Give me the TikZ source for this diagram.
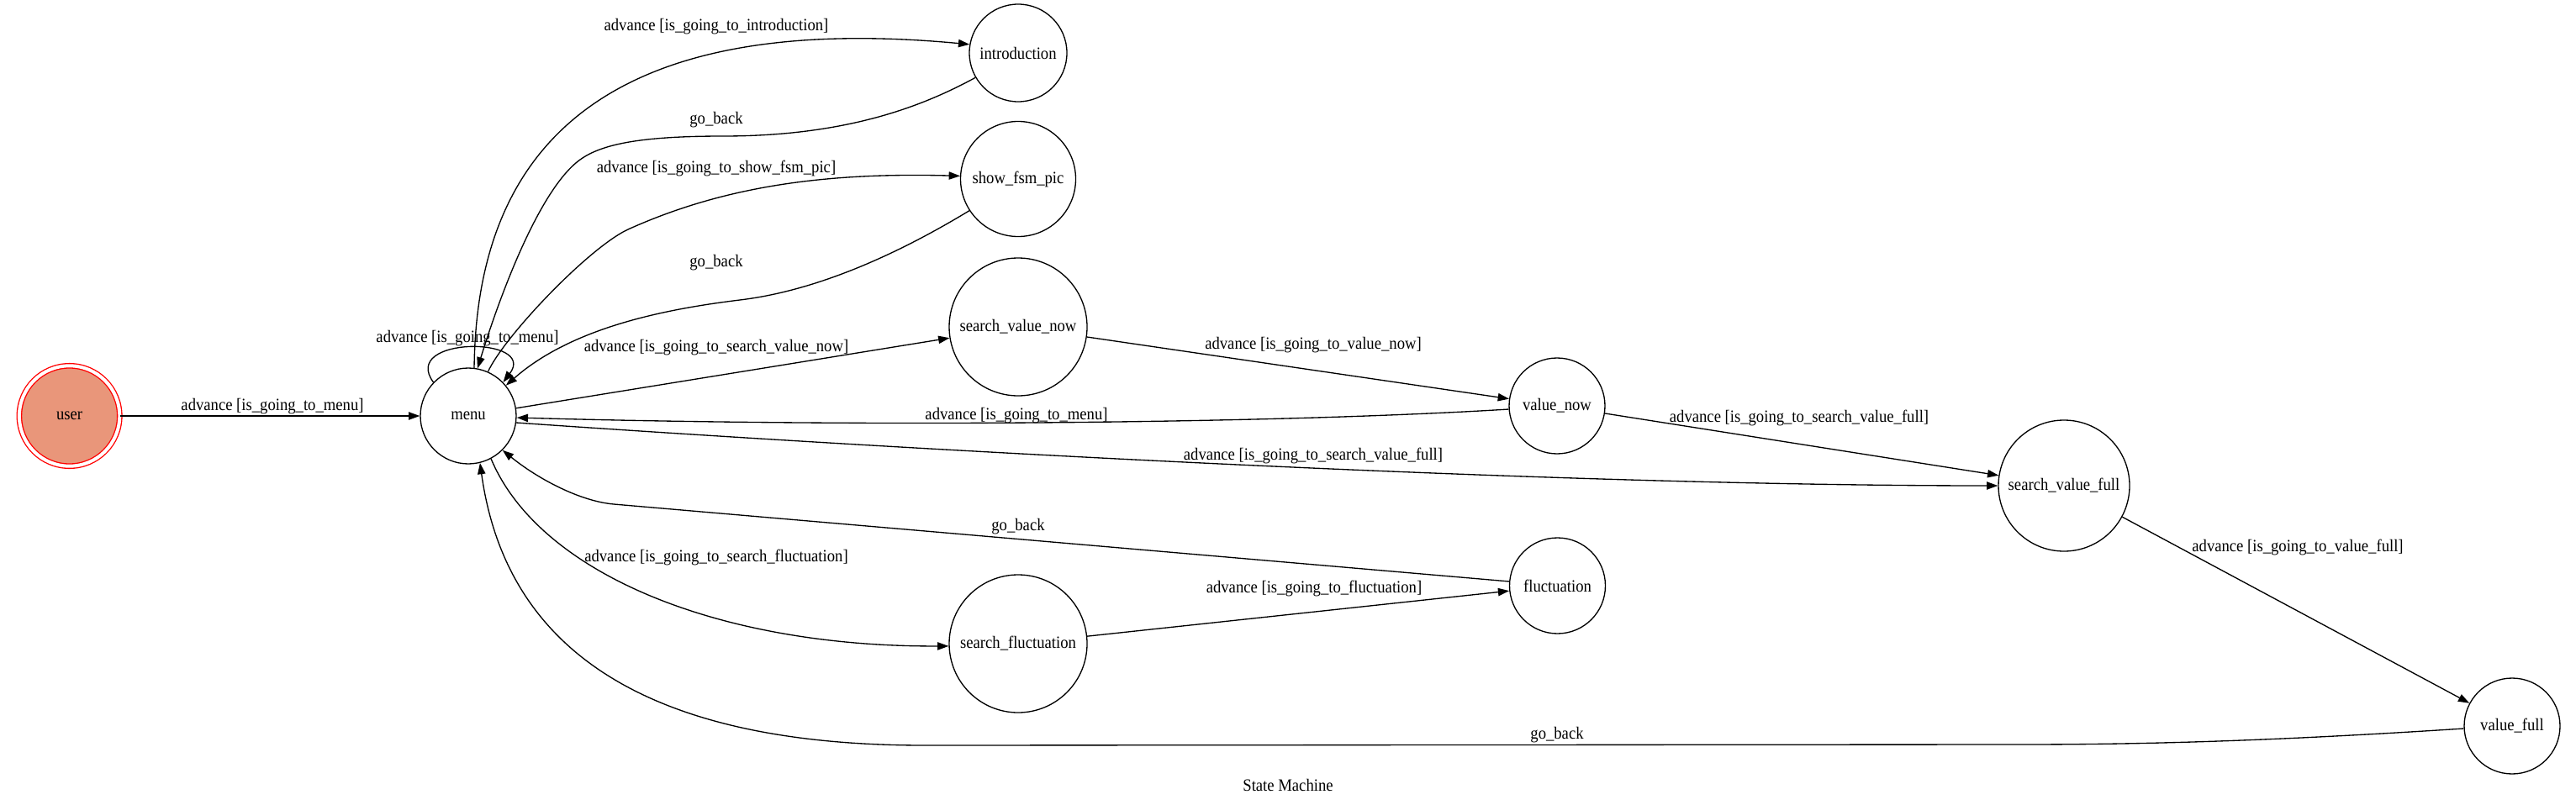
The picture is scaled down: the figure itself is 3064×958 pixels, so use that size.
\documentclass[tikz,border=0pt]{standalone}
\usepackage{fontspec}
\setmainfont{Liberation Serif}[FakeStretch=0.91]
\usetikzlibrary{arrows.meta}
\definecolor{usersalmon}{HTML}{E9967A}
\begin{document}
\begin{tikzpicture}[x=1pt,y=-1pt,
  every node/.style={font=\fontsize{20.5}{24}\selectfont, inner sep=0pt},
  fsmstate/.style={circle, draw=black, line width=1.33pt, minimum size=#1},
  fsmedge/.style={draw=black, line width=1.33pt, -{Triangle[length=13.3pt,width=9.3pt]}},
  lbl/.style={fill=none}]
\path[fill=white] (0,0) rectangle (3064,958);
\useasboundingbox (0,0) rectangle (3064,958);

% states
\node[circle, draw=red, fill=usersalmon, double=white, double distance=4pt,
      line width=1.33pt, minimum size=119.4pt] (user) at (82.6,495) {user};
\node[fsmstate=114pt] (menu) at (557,495) {menu};
\node[fsmstate=116pt] (introduction) at (1211,63) {introduction};
\node[fsmstate=137pt] (show) at (1211,213) {show\_fsm\_pic};
\node[fsmstate=164pt] (svn) at (1211,389) {search\_value\_now};
\node[fsmstate=114pt] (vn) at (1852,483) {value\_now};
\node[fsmstate=156pt] (svf) at (2455,578) {search\_value\_full};
\node[fsmstate=164pt] (sf) at (1211,766) {search\_fluctuation};
\node[fsmstate=114pt] (fl) at (1852.5,697) {fluctuation};
\node[fsmstate=114pt] (vf) at (2988,864) {value\_full};

% edges
\draw[fsmedge] (user) -- (menu);
\draw[fsmedge] (menu.136) .. controls (475,400) and (640,400) .. (menu.44);
\draw[fsmedge] (menu.83) .. controls (567,150) and (750,15) .. (introduction.170);
\draw[fsmedge] (introduction.210) .. controls (1100,125) and (1010,162) .. (860,162)
  .. controls (760,162) and (715,172) .. (690,190)
  .. controls (640,226) and (592,360) .. (menu.79);
\draw[fsmedge] (menu.66) .. controls (600,400) and (700,295) .. (747,273)
  .. controls (860,222) and (980,205) .. (show.177);
\draw[fsmedge] (show.213) .. controls (1080,295) and (980,345) .. (880,357)
  .. controls (790,368) and (680,390) .. (menu.39);
\draw[fsmedge] (menu) -- (svn);
\draw[fsmedge] (svn) -- (vn);
\draw[fsmedge] (vn.184) .. controls (1500,505) and (1000,508) .. (menu.-2);
\draw[fsmedge] (menu.-8) .. controls (1000,530) and (1800,578) .. (svf.180);
\draw[fsmedge] (vn) -- (svf);
\draw[fsmedge] (svf) -- (vf);
\draw[fsmedge] (vf.183) .. controls (2700,882) and (2550,886) .. (2400,886) -- (1100,887) .. controls (750,887) and (600,760) .. (menu.284);
\draw[fsmedge] (menu.-62) .. controls (640,680) and (850,770) .. (sf.182);
\draw[fsmedge] (sf) -- (fl);
\draw[fsmedge] (fl.175) -- (730,600) .. controls (690,596.5) and (640,570) .. (menu.-45);

% labels
\node[lbl] (l1) at (324,484) {advance [is\_going\_to\_menu]};
\node[lbl] (l2) at (556,403) {advance [is\_going\_to\_menu]};
\node[lbl] (l3) at (852,32) {advance [is\_going\_to\_introduction]};
\node[lbl] (l4) at (852,143) {go\_back};
\node[lbl] (l5) at (852,200) {advance [is\_going\_to\_show\_fsm\_pic]};
\node[lbl] (l6) at (852,313) {go\_back};
\node[lbl] (l7) at (852,414) {advance [is\_going\_to\_search\_value\_now]};
\node[lbl] (l8) at (1562,411) {advance [is\_going\_to\_value\_now]};
\node[lbl] (l9) at (1209,495) {advance [is\_going\_to\_menu]};
\node[lbl] (l10) at (1562,542) {advance [is\_going\_to\_search\_value\_full]};
\node[lbl] (l11) at (2140,497) {advance [is\_going\_to\_search\_value\_full]};
\node[lbl] (l12) at (2733,651) {advance [is\_going\_to\_value\_full]};
\node[lbl] (l13) at (1211,627) {go\_back};
\node[lbl] (l14) at (852,663) {advance [is\_going\_to\_search\_fluctuation]};
\node[lbl] (l15) at (1563,700) {advance [is\_going\_to\_fluctuation]};
\node[lbl] (l16) at (1852,875) {go\_back};
\node[lbl] (title) at (1532,934) {State Machine};
\end{tikzpicture}
\end{document}
